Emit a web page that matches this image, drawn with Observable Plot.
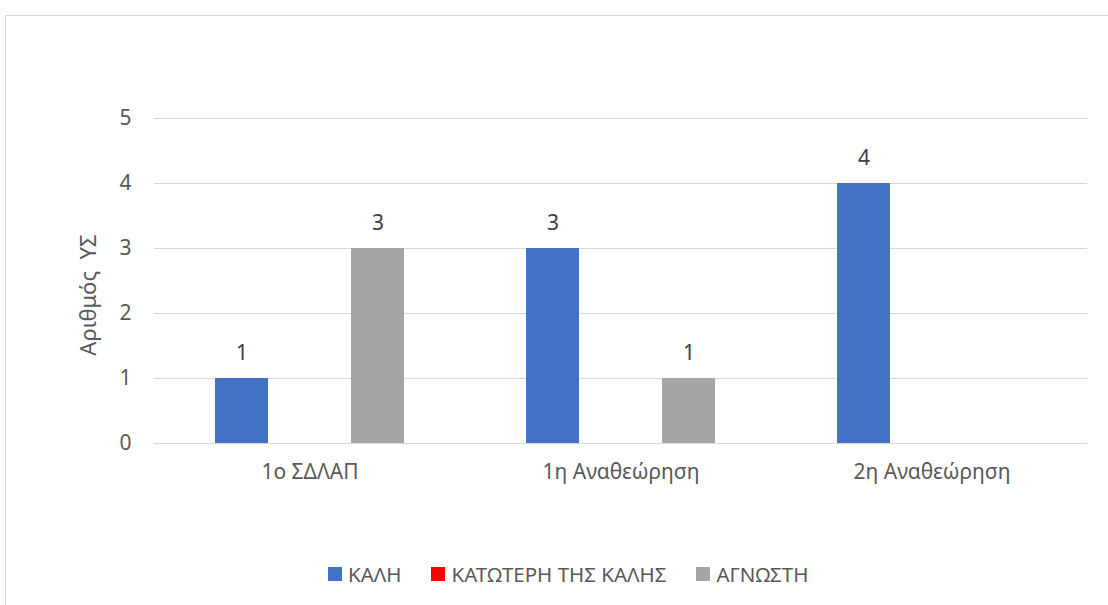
<!DOCTYPE html>
<html>
<head>
<meta charset="utf-8">
<script src="https://cdn.jsdelivr.net/npm/d3@7"></script>
<script src="https://cdn.jsdelivr.net/npm/@observablehq/plot@0.6"></script>
<style>
  body { margin: 0; background: #fff; font-family: "Noto Sans", sans-serif; }
  #wrap { position: relative; width: 1108px; height: 605px; overflow: hidden; }
  #frame { position: absolute; left: 5px; top: 15px; width: 1200px; height: 700px; border: 1px solid #d9d9d9; box-sizing: border-box; }
  #chart { position: absolute; left: 0; top: 0; }
  #legend { position: absolute; left: 328px; top: 560px; display: flex; align-items: center; font-size: 20.5px; color: #595959; white-space: nowrap; }
  .item { display: flex; align-items: center; margin-right: 30px; }
  .sw { width: 14px; height: 14px; margin-right: 6px; }
</style>
</head>
<body>
<div id="wrap">
  <div id="frame"></div>
  <div id="chart"></div>
  <div id="legend"></div>
</div>
<script>
const categories = ["1o ΣΔΛΑΠ", "1η Αναθεώρηση", "2η Αναθεώρηση"];
const series = ["ΚΑΛΗ", "ΚΑΤΩΤΕΡΗ ΤΗΣ ΚΑΛΗΣ", "ΑΓΝΩΣΤΗ"];
const valuesKali = [1, 3, 4];
const valuesKatoteri = [0, 0, 0];
const valuesAgnosti = [3, 1, 0];
const colors = ["#4472c4", "#ff0000", "#a5a5a5"];
const yTicks = [0, 1, 2, 3, 4, 5];
const yLabel = "Αριθμός  ΥΣ";

const seriesValues = [valuesKali, valuesKatoteri, valuesAgnosti];
const data = [];
categories.forEach((c, i) => {
  series.forEach((s, j) => {
    data.push({category: c, series: s, value: seriesValues[j][i]});
  });
});

const chart = Plot.plot({
  width: 1108,
  height: 500,
  marginLeft: 153,
  marginRight: 20,
  marginTop: 118,
  marginBottom: 57,
  style: {fontFamily: "Noto Sans, sans-serif", fontSize: "21px", color: "#595959", background: "transparent"},
  fx: {domain: categories, padding: 0, label: null},
  x: {domain: series, paddingInner: 0.217, paddingOuter: 0.87, axis: null},
  y: {domain: [0, 5], label: null},
  color: {domain: series, range: colors},
  marks: [
    Plot.gridY(yTicks, {stroke: "#d9d9d9", strokeOpacity: 1, strokeWidth: 1}),
    Plot.barY(data, {fx: "category", x: "series", y: "value", fill: "series"}),
    Plot.text(data.filter(d => d.value > 0), {fx: "category", x: "series", y: "value", text: d => String(d.value), dy: -25, fill: "#404040"}),
    Plot.axisY({ticks: yTicks, tickFormat: "d", tickSize: 0, tickPadding: 23, label: null}),
    Plot.axisFx({anchor: "bottom", tickSize: 0, tickPadding: 21, label: null})
  ]
});
document.getElementById("chart").appendChild(chart);

chart.querySelectorAll("text").forEach(t => t.setAttribute("font-size", "21"));

// y-axis title
d3.select(chart).append("text")
  .attr("transform", "translate(88,295) rotate(-90)")
  .attr("text-anchor", "middle")
  .attr("dy", "0.35em")
  .attr("font-size", 22)
  .attr("fill", "#595959")
  .attr("font-family", "Noto Sans, sans-serif")
  .style("white-space", "pre")
  .text(yLabel);

const legend = document.getElementById("legend");
series.forEach((s, j) => {
  const item = document.createElement("div");
  item.className = "item";
  const sw = document.createElement("div");
  sw.className = "sw";
  sw.style.background = colors[j];
  const lab = document.createElement("span");
  lab.textContent = s;
  item.appendChild(sw);
  item.appendChild(lab);
  legend.appendChild(item);
});
</script>
</body>
</html>
